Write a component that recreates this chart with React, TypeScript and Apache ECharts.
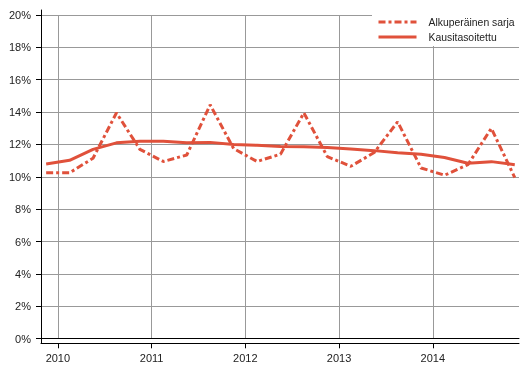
import React, { useEffect, useRef } from 'react';
import * as echarts from 'echarts';

const quarters = [
  '2009Q4',
  '2010Q1', '2010Q2', '2010Q3', '2010Q4',
  '2011Q1', '2011Q2', '2011Q3', '2011Q4',
  '2012Q1', '2012Q2', '2012Q3', '2012Q4',
  '2013Q1', '2013Q2', '2013Q3', '2013Q4',
  '2014Q1', '2014Q2', '2014Q3', '2014Q4',
];
const original = [
  10.25,
  10.25, 11.15, 13.95, 11.7,
  10.95, 11.35, 14.45, 11.75,
  10.95, 11.4, 13.95, 11.25,
  10.65, 11.5, 13.4, 10.55,
  10.1, 10.75, 13.0, 9.95,
];
const adjusted = [
  10.8,
  11.02, 11.7, 12.1, 12.2,
  12.2, 12.11, 12.13, 12.0,
  11.95, 11.87, 11.86, 11.82,
  11.72, 11.62, 11.49, 11.39,
  11.2, 10.84, 10.94, 10.75,
];
const yearTicks = [2010, 2011, 2012, 2013, 2014];
const seriesNames = ['Alkuperäinen sarja', 'Kausitasoitettu'];

const toX = (q: string) => {
  const y = Number(q.slice(0, 4));
  const n = Number(q.slice(5));
  return y + (n - 0.5) / 4;
};

export default function App() {
  const ref = useRef<HTMLDivElement>(null);
  useEffect(() => {
    if (!ref.current) return;
    const chart = echarts.init(ref.current, undefined, { renderer: 'svg' });
    const color = '#e0513b';
    const xMin = 2009.82;
    const xMax = 2014.92;
    const font = 'Liberation Sans, Arial, sans-serif';
    chart.setOption({
      animation: false,
      textStyle: { fontFamily: font },
      grid: [
        { left: 41, right: 10, top: 15, bottom: 39.3 },
        { left: 41, right: 10, top: 10, bottom: 34.7 },
      ],
      xAxis: [
        {
          type: 'value', gridIndex: 0, min: xMin, max: xMax,
          axisLine: { show: true, onZero: false, lineStyle: { color: '#000', width: 1 } },
          axisTick: { show: false, customValues: yearTicks },
          axisLabel: { show: false, customValues: yearTicks },
          splitLine: { show: true, lineStyle: { color: '#999', width: 1 } },
        },
        {
          type: 'value', gridIndex: 1, min: xMin, max: xMax,
          axisLine: { show: true, onZero: false, lineStyle: { color: '#000', width: 1 } },
          axisTick: { show: true, length: 5, customValues: yearTicks, lineStyle: { color: '#000' } },
          axisLabel: {
            customValues: yearTicks, formatter: (v: number) => String(v),
            color: '#222', fontSize: 11, margin: 9, fontFamily: font,
          },
          splitLine: { show: false },
        },
      ],
      yAxis: [
        {
          type: 'value', gridIndex: 0, min: 0, max: 20, interval: 2,
          axisLine: { show: false },
          axisTick: { show: true, length: 5, lineStyle: { color: '#000' } },
          axisLabel: { formatter: '{value}%', fontSize: 11, color: '#222', margin: 10, fontFamily: font },
          splitLine: { show: true, lineStyle: { color: '#999', width: 1 } },
        },
        {
          type: 'value', gridIndex: 1, min: 0, max: 1,
          axisLine: { show: true, lineStyle: { color: '#000', width: 1 } },
          axisTick: { show: false },
          axisLabel: { show: false },
          splitLine: { show: false },
        },
      ],
      legend: {
        orient: 'vertical', left: 372, top: 13,
        padding: [4, 5, 4, 5], backgroundColor: '#fff',
        itemWidth: 38, itemHeight: 12, itemGap: 5,
        data: seriesNames,
        itemStyle: { opacity: 0 },
        lineStyle: { width: 3 },
        textStyle: { fontSize: 10.4, color: '#222', padding: [0, 0, 0, 7], fontFamily: font },
      },
      series: [
        {
          name: seriesNames[0], type: 'line', xAxisIndex: 0, yAxisIndex: 0,
          data: quarters.map((q, i) => [toX(q), original[i]]),
          symbol: 'none', showSymbol: false,
          lineStyle: { color, width: 3, type: [7, 3, 3, 3] },
          itemStyle: { color },
        },
        {
          name: seriesNames[1], type: 'line', xAxisIndex: 0, yAxisIndex: 0,
          data: quarters.map((q, i) => [toX(q), adjusted[i]]),
          symbol: 'none', showSymbol: false,
          lineStyle: { color, width: 3 },
          itemStyle: { color },
        },
      ],
    });
    return () => chart.dispose();
  }, []);
  return (
    <div
      ref={ref}
      style={{ position: 'fixed', left: 0, top: 0, width: 529, height: 378 }}
    />
  );
}
